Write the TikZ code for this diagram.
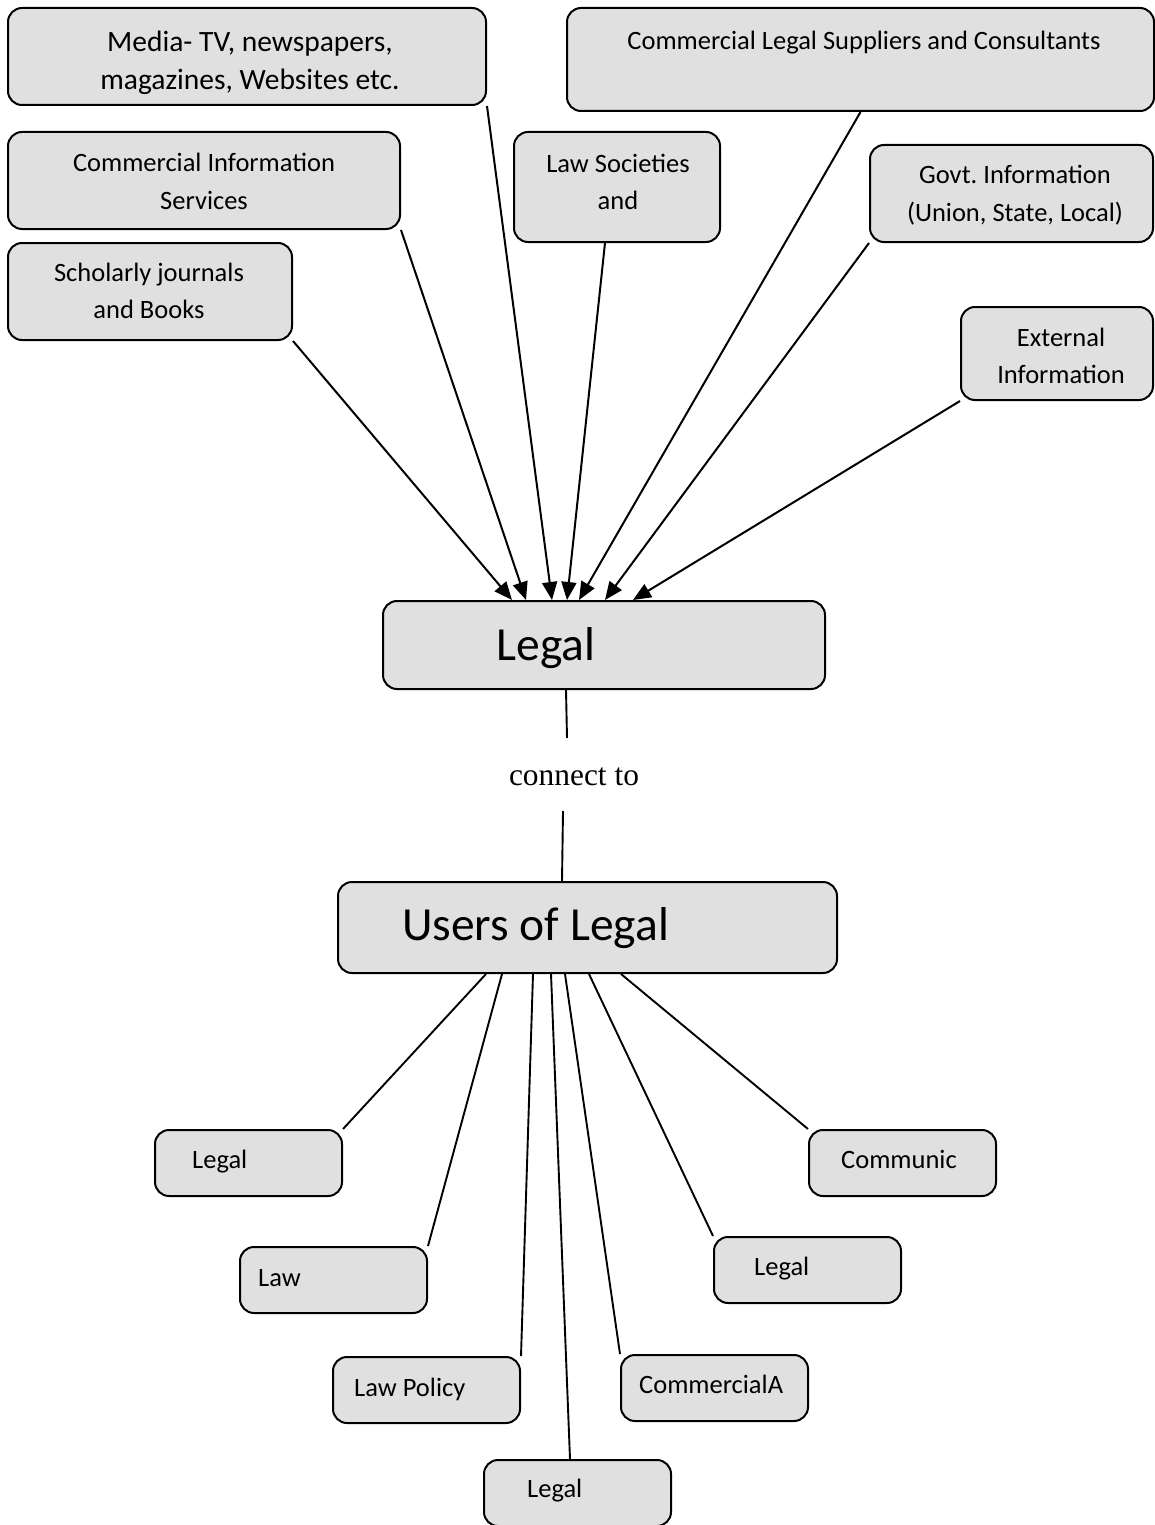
\documentclass[tikz,border=0pt]{standalone}
\usepackage{fontspec}
\setmainfont{Carlito}
\newfontfamily\timesfont{Liberation Serif}
\usetikzlibrary{arrows.meta,calc}
\definecolor{boxgray}{RGB}{224,224,224}
\frenchspacing
\begin{document}
\begin{tikzpicture}[x=1pt,y=-1pt,
  box/.style={draw=black, line width=2pt, fill=boxgray, rounded corners=14pt, inner sep=0pt},
  txt/.style={inner sep=0pt, align=center, font=\fontsize{26.5}{37}\selectfont},
  ltxt/.style={inner sep=0pt, anchor=base west, font=\fontsize{26.5}{37}\selectfont},
  arr/.style={line width=2pt, -{Triangle[length=18pt,width=15pt]}},
  conn/.style={line width=1.9pt}]
\useasboundingbox[fill=white] (0,0) rectangle (1155,1525);

% source boxes
\node[box, minimum width=478pt, minimum height=97pt] (media) at (247,56.5) {};
\node[box, minimum width=587pt, minimum height=103pt] (cls) at (860.5,59.5) {};
\node[box, minimum width=392pt, minimum height=97pt] (cis) at (204,180.5) {};
\node[box, minimum width=206pt, minimum height=110pt] (lsoc) at (617,187) {};
\node[box, minimum width=283pt, minimum height=97pt] (govt) at (1011.5,193.5) {};
\node[box, minimum width=284pt, minimum height=97pt] (schol) at (150,291.5) {};
\node[box, minimum width=192pt, minimum height=93pt] (ext) at (1057,353.5) {};

\node[txt, anchor=base, font=\fontsize{29.5}{38}\selectfont] (mediat) at (250,90) {Media- TV, newspapers,\\magazines, Websites etc.};
\node[txt, anchor=base] (clst) at (864,50) {Commercial Legal Suppliers and Consultants};
\node[txt, anchor=base] (cist) at (204,209) {Commercial Information\\Services};
\node[txt, anchor=base] (lsoct) at (618,210) {Law Societies\\and};
\node[txt, anchor=base] (govtt) at (1015,221) {Govt.\ Information\\(Union, State, Local)};
\node[txt, anchor=base] (scholt) at (149,318) {Scholarly journals\\and Books};
\node[txt, anchor=base] (extt) at (1061,383) {External\\Information};

% central boxes
\node[box, minimum width=442pt, minimum height=88pt] (legal) at (604,645) {};
\node[inner sep=0pt, anchor=base, font=\fontsize{47.5}{57}\selectfont] (legalt) at (546,660) {Legal};
\node[box, minimum width=499pt, minimum height=91pt] (users) at (587.5,927.5) {};
\node[inner sep=0pt, anchor=base, font=\fontsize{47.5}{57}\selectfont] (userst) at (535.5,940) {Users of Legal};
\node[inner sep=0pt, anchor=base, font=\timesfont\fontsize{31.4}{38}\selectfont] (ct) at (574,785) {connect to};

% user boxes
\node[box, minimum width=187pt, minimum height=66pt] (u1) at (248.5,1163) {};
\node[box, minimum width=187pt, minimum height=66pt] (u2) at (333.5,1280) {};
\node[box, minimum width=187pt, minimum height=66pt] (u3) at (426.5,1390) {};
\node[box, minimum width=187pt, minimum height=66pt] (u4) at (577.5,1493) {};
\node[box, minimum width=187pt, minimum height=66pt] (u5) at (714.5,1388) {};
\node[box, minimum width=187pt, minimum height=66pt] (u6) at (807.5,1270) {};
\node[box, minimum width=187pt, minimum height=66pt] (u7) at (902.5,1163) {};
\node[ltxt] (u1t) at (192,1168) {Legal};
\node[ltxt] (u2t) at (258,1286) {Law};
\node[ltxt] (u3t) at (354,1396) {Law Policy};
\node[ltxt] (u4t) at (527,1497) {Legal};
\node[ltxt] (u5t) at (639,1393) {CommercialA};
\node[ltxt] (u6t) at (754,1275) {Legal};
\node[ltxt] (u7t) at (841,1168) {Communic};

% arrows into Legal
\draw[arr] (schol.south east) -- ($(legal.north west)+(130,0)$);
\draw[arr] (cis.south east) -- ($(legal.north west)+(144,0)$);
\draw[arr] (media.south east) -- ($(legal.north west)+(170,0)$);
\draw[arr] ($(lsoc.south)+(-12,0)$) -- ($(legal.north west)+(185,0)$);
\draw[arr] (cls.south) -- ($(legal.north west)+(197,0)$);
\draw[arr] (govt.south west) -- ($(legal.north west)+(223,0)$);
\draw[arr] (ext.south west) -- ($(legal.north west)+(251,0)$);

% connect to
\coordinate (c1) at (567,738);
\coordinate (c2) at (563,811);
\draw[conn] ($(legal.south west)+(184,0)$) -- (c1);
\draw[conn] (c2) -- ($(users.north west)+(225,0)$);

% lines to users
\draw[conn] ($(users.south west)+(149,0)$) -- (u1.north east);
\draw[conn] ($(users.south west)+(165,0)$) -- (u2.north east);
\draw[conn] ($(users.south west)+(196,0)$) -- (u3.north east);
\draw[conn] ($(users.south west)+(214,0)$) -- ($(u4.north west)+(87,0)$);
\draw[conn] ($(users.south west)+(228,0)$) -- (u5.north west);
\draw[conn] ($(users.south west)+(252,0)$) -- (u6.north west);
\draw[conn] ($(users.south west)+(284,0)$) -- (u7.north west);
\end{tikzpicture}
\end{document}
